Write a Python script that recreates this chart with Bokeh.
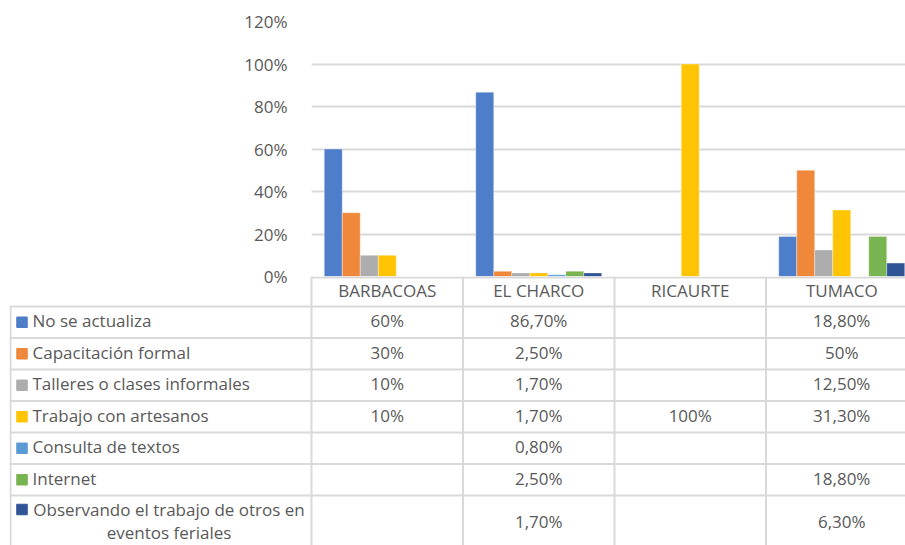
import textwrap
from bokeh.plotting import figure
from bokeh.layouts import column
from bokeh.models import Range1d, FixedTicker, CustomJSTickFormatter
from bokeh.core.properties import value
from bokeh.embed import file_html
from bokeh.resources import INLINE

# ---------------- data ----------------
categories = ["BARBACOAS", "EL CHARCO", "RICAURTE", "TUMACO"]
series = [
    "No se actualiza",
    "Capacitación formal",
    "Talleres o clases informales",
    "Trabajo con artesanos",
    "Consulta de textos",
    "Internet",
    "Observando el trabajo de otros en eventos feriales",
]
no_se_actualiza = [60, 86.7, None, 18.8]
capacitacion_formal = [30, 2.5, None, 50]
talleres = [10, 1.7, None, 12.5]
trabajo_artesanos = [10, 1.7, 100, 31.3]
consulta_textos = [None, 0.8, None, None]
internet = [None, 2.5, None, 18.8]
observando = [None, 1.7, None, 6.3]
values_by_series = [no_se_actualiza, capacitacion_formal, talleres, trabajo_artesanos,
                    consulta_textos, internet, observando]
colors = ["#4E7DC9", "#EF883A", "#ADADAD", "#FFC404", "#5B9BD5", "#78B450", "#2F5597"]
y_ticks = [0, 20, 40, 60, 80, 100, 120]

# ---------------- layout constants ----------------
FONT = "Open Sans"
TXT = "#595959"
GRID = "#D9D9D9"
FS = "17px"
W = 905
CAT_W = 151.5           # px per category
LEFT_COL = 302          # px width of legend column in table
TAB_LEFT = 9            # px left edge of the table
TOP_H = 276
BOT_PAD = 14
TAB_H = 269
FRAME_L = TAB_LEFT + LEFT_COL
n_cat = len(categories)
n_ser = len(series)
bar_w_px = 18.0

# ---------------- top (bar) figure ----------------
frame_w = W - FRAME_L
p = figure(width=W, height=TOP_H + BOT_PAD, output_backend="svg", toolbar_location=None,
           x_range=Range1d(0, frame_w / CAT_W), y_range=Range1d(0, 120),
           min_border_left=FRAME_L, min_border_right=0, min_border_top=21, min_border_bottom=BOT_PAD,
           frame_align=False)
p.outline_line_color = None
p.xaxis.visible = False
p.xgrid.visible = False
p.ygrid.grid_line_color = GRID
p.ygrid.grid_line_width = 2
p.yaxis.ticker = FixedTicker(ticks=y_ticks)
p.yaxis.formatter = CustomJSTickFormatter(code="return tick.toFixed(0) + '%';")
p.yaxis.axis_line_color = None
p.yaxis.major_tick_line_color = None
p.yaxis.minor_tick_line_color = None
p.yaxis.major_label_standoff = 18
p.yaxis.major_label_text_font = FONT
p.yaxis.major_label_text_font_size = FS
p.yaxis.major_label_text_color = TXT

bw = bar_w_px / CAT_W
for j, (name, vals, col) in enumerate(zip(series, values_by_series, colors)):
    xs, tops = [], []
    for i, v in enumerate(vals):
        if v is None:
            continue
        xs.append(i + 0.5 + (j - (n_ser - 1) / 2) * bw)
        tops.append(v)
    if xs:
        p.vbar(x=xs, top=tops, width=bw, color=col, line_color="white", line_alpha=0.35, line_width=1)

# ---------------- table figure ----------------
tab_frame_w = W - TAB_LEFT
x0 = -LEFT_COL / CAT_W
t = figure(width=W, height=TAB_H, output_backend="svg", toolbar_location=None,
           x_range=Range1d(x0, x0 + tab_frame_w / CAT_W), y_range=Range1d(TAB_H, 0),
           min_border_left=TAB_LEFT, min_border_right=0, min_border_top=0, min_border_bottom=0,
           frame_align=False)
t.margin = (-BOT_PAD, 0, 0, 0)
t.outline_line_color = None
t.background_fill_color = None
t.border_fill_color = None
t.axis.visible = False
t.grid.visible = False

HEADER_H = 30
ROW_H = 31.5
LAST_H = TAB_H - HEADER_H - ROW_H * (n_ser - 1)
row_top = [HEADER_H + ROW_H * k for k in range(n_ser)]
row_bot = [row_top[k] + (ROW_H if k < n_ser - 1 else LAST_H) for k in range(n_ser)]
row_mid = [(a + b) / 2 for a, b in zip(row_top, row_bot)]
right_end = x0 + tab_frame_w / CAT_W + 1

# horizontal lines
t.segment(x0=[0], y0=[1], x1=[right_end], y1=[1], line_color=GRID, line_width=2)
t.segment(x0=[x0] * n_ser, y0=row_top, x1=[right_end] * n_ser, y1=row_top,
          line_color=GRID, line_width=2)
# vertical lines
t.segment(x0=[x0 + 1 / CAT_W], y0=[HEADER_H], x1=[x0 + 1 / CAT_W], y1=[TAB_H], line_color=GRID, line_width=2)
t.segment(x0=list(range(n_cat)), y0=[0] * n_cat, x1=list(range(n_cat)), y1=[TAB_H] * n_cat,
          line_color=GRID, line_width=2)

# category header
t.text(x=[i + 0.5 for i in range(n_cat)], y=[HEADER_H / 2 - 1] * n_cat, text=categories,
       text_font=value(FONT), text_font_size=FS, text_color=TXT,
       text_align="center", text_baseline="middle")

# legend column
sq_x = x0 + 12.5 / CAT_W
TEXT_DY = -1.5
for k, (name, col) in enumerate(zip(series, colors)):
    lines = textwrap.wrap(name, 33)
    if len(lines) == 1:
        t.rect(x=[sq_x], y=[row_mid[k]], width=10.5 / CAT_W, height=10.5, color=col)
        t.text(x=[x0 + 23 / CAT_W], y=[row_mid[k] + TEXT_DY], text=[name], text_font=value(FONT),
               text_font_size=FS, text_color=TXT, text_align="left", text_baseline="middle")
    else:
        y1 = row_top[k] + 14
        t.rect(x=[sq_x], y=[y1], width=10.5 / CAT_W, height=10.5, color=col)
        cx = x0 + 159.5 / CAT_W
        t.text(x=[cx] * len(lines), y=[y1 + 23 * m for m in range(len(lines))], text=lines,
               text_font=value(FONT), text_font_size=FS, text_color=TXT,
               text_align="center", text_baseline="middle")

# values
def fmt(v):
    if abs(v - round(v)) < 1e-9:
        return f"{int(round(v))}%"
    return f"{v:.2f}".replace(".", ",") + "%"

vx, vy, vt = [], [], []
for k, vals in enumerate(values_by_series):
    for i, v in enumerate(vals):
        if v is None:
            continue
        vx.append(i + 0.5)
        vy.append(row_mid[k] + (TEXT_DY if k < n_ser - 1 else 1))
        vt.append(fmt(v))
t.text(x=vx, y=vy, text=vt, text_font=value(FONT), text_font_size=FS, text_color=TXT,
       text_align="center", text_baseline="middle")

layout = column(p, t, spacing=0)
open("out.html", "w").write(file_html(layout, INLINE))
